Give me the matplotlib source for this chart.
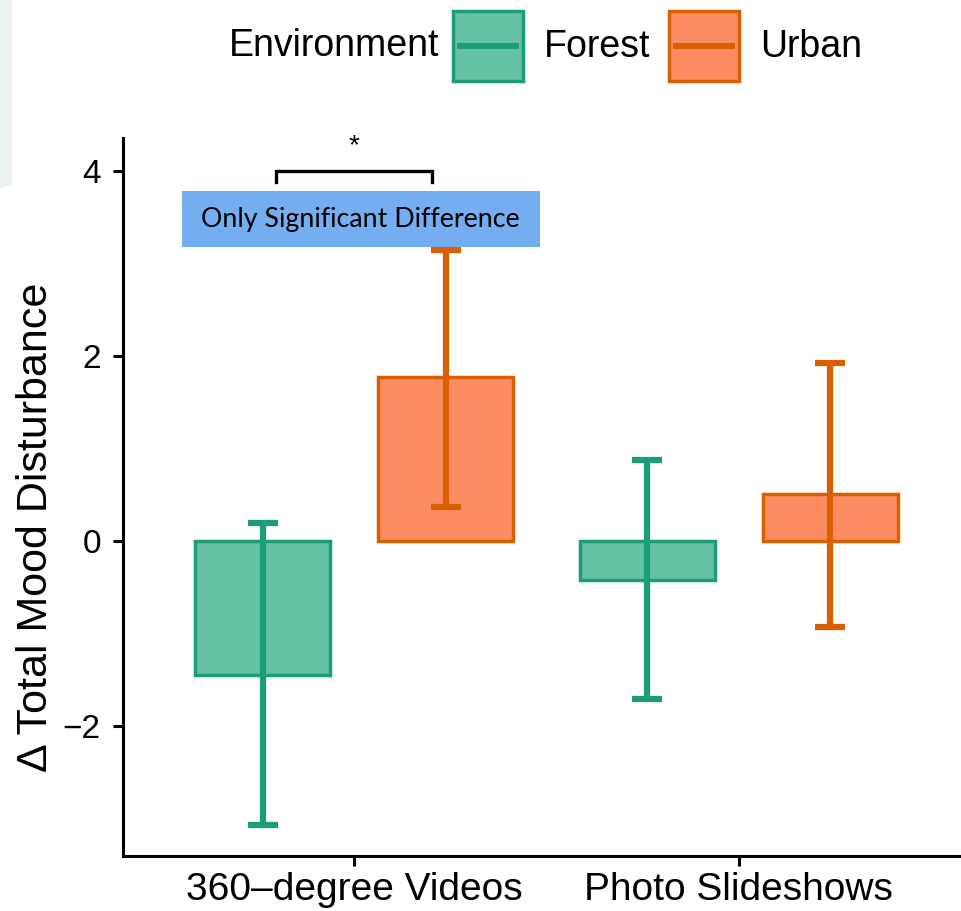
import matplotlib
matplotlib.use("Agg")
import matplotlib.pyplot as plt
import numpy as np
from matplotlib.patches import Patch, Rectangle, Polygon
from matplotlib.lines import Line2D
from matplotlib.legend_handler import HandlerBase

# data
categories = ["360\u2013degree Videos", "Photo Slideshows"]
forest_mean = [-1.45, -0.42]
forest_low = [-3.07, -1.71]
forest_high = [0.20, 0.88]
urban_mean = [1.77, 0.51]
urban_low = [0.37, -0.93]
urban_high = [3.15, 1.92]

forest_fill, forest_edge = "#66C2A5", "#1B9E77"
urban_fill, urban_edge = "#FC8D62", "#D95F02"

plt.rcParams["font.family"] = ["Liberation Sans", "DejaVu Sans"]


class KeyHandler(HandlerBase):
    # box with the errorbar stroke across the middle, like the ggplot key
    def create_artists(self, legend, orig, xdescent, ydescent, width, height,
                       fontsize, trans):
        x0, y0 = -xdescent, -ydescent
        box = Rectangle((x0, y0), width, height, facecolor=orig.get_facecolor(),
                        edgecolor=orig.get_edgecolor(), linewidth=2.5,
                        transform=trans)
        line = Line2D([x0 + 0.1 * width, x0 + 0.9 * width],
                      [y0 + height / 2] * 2, color=orig.get_edgecolor(),
                      lw=4.3, transform=trans)
        return [box, line]


fig = plt.figure(figsize=(9.62, 9.11), dpi=100)
ax = fig.add_axes([123 / 962, 1 - 856 / 911, 1 - 123 / 962, (856 - 138) / 911])

x = np.arange(len(categories))
off = 0.238
w = 0.351

for xs, m, lo, hi, fc, ec in [
    (x - off, forest_mean, forest_low, forest_high, forest_fill, forest_edge),
    (x + off, urban_mean, urban_low, urban_high, urban_fill, urban_edge),
]:
    ax.bar(xs, m, width=w, color=fc, edgecolor=ec, linewidth=2.5, zorder=2)
    m = np.array(m)
    yerr = [m - np.array(lo), np.array(hi) - m]
    ax.errorbar(xs, m, yerr=yerr, fmt="none", ecolor=ec, elinewidth=4.5,
                capsize=10.5, capthick=4.5, zorder=3)

# significance bracket
bx0, bx1, by, drop = -0.203, 0.203, 4.0, 0.12
ax.plot([bx0, bx0, bx1, bx1], [by - drop, by, by, by - drop], color="black",
        lw=2.4, solid_joinstyle="miter", zorder=4, clip_on=False)
ax.text((bx0 + bx1) / 2, by + 0.27, "*", ha="center", va="center", fontsize=20)

ax.set_xlim(-0.601, 1.581)
ax.set_ylim(-3.405, 4.357)
ax.set_yticks([-2, 0, 2, 4])
ax.set_yticklabels(["\u22122", "0", "2", "4"])
ax.set_xticks(x)
ax.set_xticklabels(categories)

for s in ["top", "right"]:
    ax.spines[s].set_visible(False)
for s in ["left", "bottom"]:
    ax.spines[s].set_linewidth(2.2)
ax.tick_params(axis="both", width=2.2, length=7.5, color="black")
ax.tick_params(axis="y", labelsize=24, pad=8.5)
ax.tick_params(axis="x", labelsize=28, pad=4)
ax.set_ylabel("\u0394 Total Mood Disturbance", fontsize=31)
ax.yaxis.set_label_coords(-0.08, 0.458)

# legend across the top
handles = [Patch(facecolor=forest_fill, edgecolor=forest_edge),
           Patch(facecolor=urban_fill, edgecolor=urban_edge)]
fig.legend(handles, ["Forest", "Urban"], loc="center left",
           bbox_to_anchor=(453 / 962, 1 - 46 / 911), ncol=2, frameon=False,
           fontsize=27, handlelength=1.87, handleheight=2.5,
           handletextpad=0.55, columnspacing=0.5, borderpad=0, borderaxespad=0,
           handler_map={Patch: KeyHandler()})
fig.text(439 / 962, 1 - 46 / 911, "Environment", ha="right", va="center",
         fontsize=27)

# blue note box
fig.patches.append(Rectangle((182 / 962, 1 - 247 / 911), 358 / 962, 56 / 911,
                             transform=fig.transFigure, facecolor="#74AEF0",
                             edgecolor="none", zorder=5))
fig.text(360 / 962, 1 - 220 / 911, "Only Significant Difference", ha="center",
         va="center", fontsize=19.3, family=["Lato", "DejaVu Sans"], zorder=6)

# light strip at the top left edge
fig.patches.append(Polygon([(0, 1), (12 / 962, 1), (12 / 962, 1 - 185 / 911),
                            (0, 1 - 188 / 911)], closed=True,
                           transform=fig.transFigure, facecolor="#EAF2F6",
                           edgecolor="none", zorder=0))

fig.savefig("out.png", dpi=100)
